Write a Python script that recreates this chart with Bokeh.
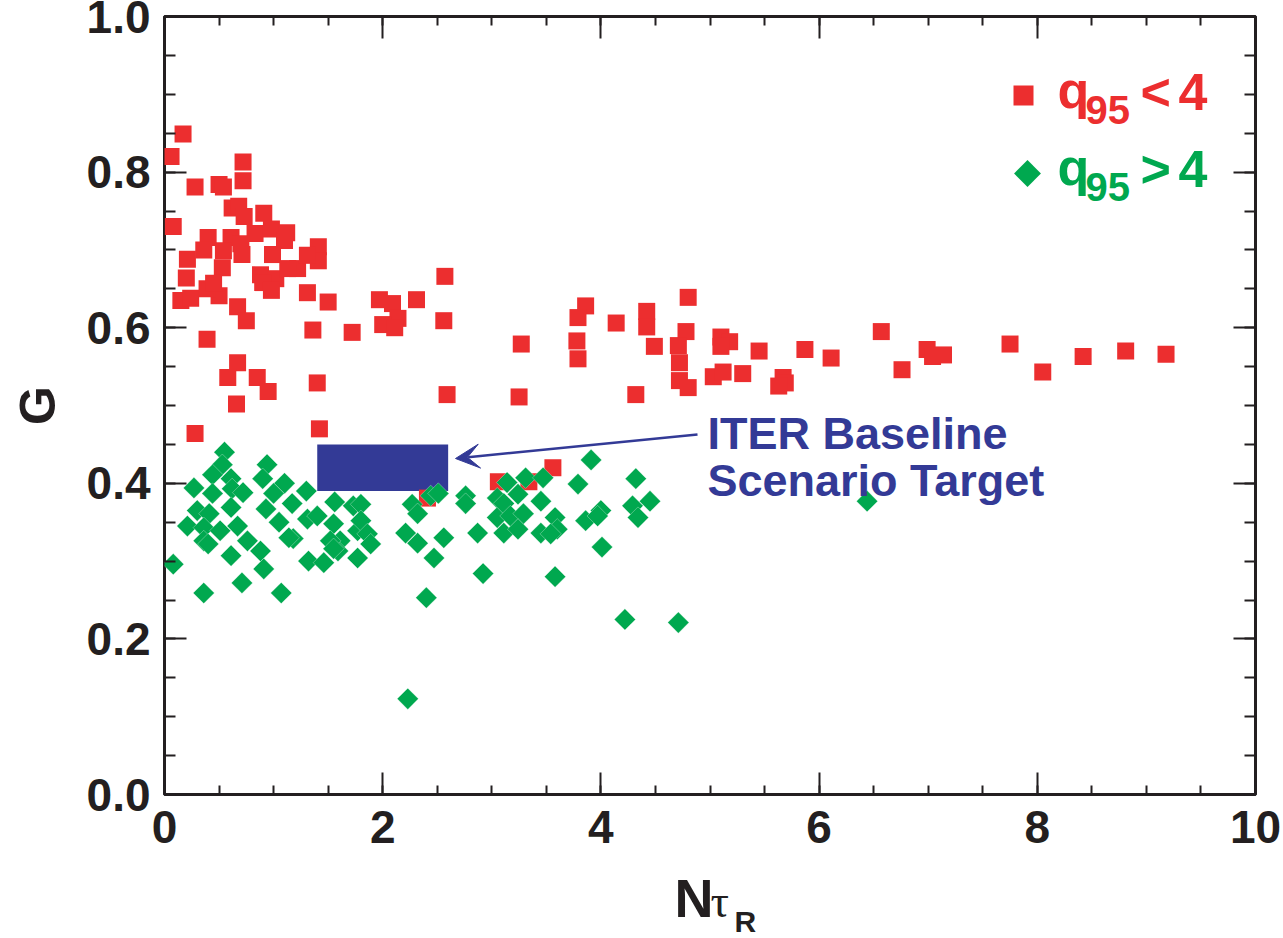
import numpy as np
from bokeh.plotting import figure
from bokeh.layouts import column
from bokeh.models import (Range1d, FixedTicker, Label, Arrow, VeeHead, LinearAxis,
                          ColumnDataSource)
from bokeh.embed import file_html
from bokeh.resources import INLINE

# --- data: G versus N_tauR -------------------------------------------------
# discharges with q95 < 4
red_n = [0.06, 0.17, 0.08, 0.28, 0.50, 0.54, 0.72, 0.72, 0.62, 0.68, 0.73, 0.91, 0.83, 0.98,
         1.12, 0.40, 0.61, 0.70, 0.36, 0.54, 0.71, 0.99, 1.10, 1.41, 1.41, 0.21, 0.53, 0.88,
         1.02, 1.22, 1.13, 1.31, 1.31, 0.20, 0.15, 0.67, 0.75, 0.39, 0.67, 0.58, 0.85, 0.95,
         0.66, 0.28, 1.50, 1.36, 1.72, 1.40, 1.42, 1.97, 2.09, 2.14, 2.00, 2.11, 2.31, 2.57,
         2.56, 2.59, 0.24, 0.50, 0.39, 0.45, 0.90, 0.98,
         3.27, 3.25, 3.86, 3.79, 3.78, 3.79, 4.14, 4.42, 4.42, 4.49, 4.32, 4.80, 4.78, 4.71,
         4.72, 4.72, 4.80, 5.10, 5.18, 5.10, 5.03, 5.12, 5.30, 5.45, 5.67, 5.69, 5.63, 5.87,
         6.11, 6.57, 6.76, 6.99, 7.04, 7.14, 7.75, 8.05, 8.42, 8.81, 9.18, 3.06, 3.34, 3.56,
         2.41]
red_g = [0.820, 0.849, 0.730, 0.781, 0.784, 0.781, 0.789, 0.813, 0.754, 0.756, 0.743, 0.747,
         0.721, 0.727, 0.722, 0.716, 0.716, 0.708, 0.700, 0.699, 0.694, 0.694, 0.712, 0.704,
         0.686, 0.688, 0.677, 0.668, 0.663, 0.676, 0.676, 0.693, 0.645, 0.664, 0.635, 0.627,
         0.609, 0.585, 0.555, 0.536, 0.536, 0.518, 0.502, 0.464, 0.633, 0.597, 0.594, 0.529,
         0.470, 0.636, 0.631, 0.612, 0.604, 0.600, 0.636, 0.666, 0.609, 0.514, 0.638, 0.641,
         0.650, 0.657, 0.658, 0.648,
         0.579, 0.511, 0.628, 0.613, 0.583, 0.560, 0.606, 0.621, 0.601, 0.576, 0.514, 0.639,
         0.595, 0.577, 0.555, 0.532, 0.523, 0.588, 0.582, 0.576, 0.537, 0.543, 0.541, 0.570,
         0.536, 0.529, 0.525, 0.572, 0.561, 0.595, 0.546, 0.572, 0.563, 0.565, 0.579, 0.543,
         0.563, 0.570, 0.566, 0.402, 0.402, 0.420, 0.381]

# discharges with q95 > 4
green_n = [0.55, 0.53, 0.44, 0.61, 0.27, 0.62, 0.44, 0.72, 0.94, 0.90, 1.10, 1.00, 1.17, 1.30,
           0.93, 0.61, 0.30, 0.41, 0.21, 0.36, 0.67, 0.51, 0.36, 0.76, 1.05, 1.18, 1.31, 1.40,
           1.56, 1.55, 1.61, 1.73, 1.77, 0.40, 0.61, 0.88, 1.32, 1.46, 1.59, 1.77, 0.08, 0.71,
           0.91, 0.36, 1.07,
           1.14, 1.52, 1.80, 1.80, 1.86, 1.89, 1.55, 2.27, 2.32, 2.21, 2.32, 2.44, 2.51, 2.56,
           2.47, 2.76, 2.76, 2.87, 2.92, 2.40, 3.05, 3.05, 2.23,
           3.91, 3.14, 3.31, 3.47, 3.24, 3.11, 3.17, 3.29, 3.45, 3.11, 3.24, 3.45, 3.58, 3.60,
           3.54, 3.79, 4.32, 3.86, 4.00, 3.97, 4.29, 4.34, 4.45, 4.01, 3.58, 4.22, 4.71, 6.44]
green_g = [0.440, 0.424, 0.411, 0.406, 0.394, 0.393, 0.387, 0.388, 0.424, 0.406, 0.400, 0.387,
           0.374, 0.390, 0.367, 0.369, 0.365, 0.361, 0.345, 0.343, 0.345, 0.339, 0.326, 0.326,
           0.350, 0.329, 0.354, 0.358, 0.376, 0.348, 0.326, 0.371, 0.339, 0.322, 0.307, 0.313,
           0.300, 0.298, 0.313, 0.304, 0.296, 0.272, 0.290, 0.259, 0.259,
           0.330, 0.326, 0.373, 0.352, 0.335, 0.322, 0.316, 0.373, 0.361, 0.336, 0.323, 0.384,
           0.387, 0.330, 0.304, 0.384, 0.374, 0.336, 0.284, 0.253, 0.381, 0.356, 0.123,
           0.430, 0.401, 0.407, 0.407, 0.386, 0.374, 0.358, 0.361, 0.377, 0.336, 0.341, 0.336,
           0.356, 0.341, 0.335, 0.399, 0.406, 0.352, 0.365, 0.358, 0.371, 0.356, 0.377, 0.318,
           0.280, 0.225, 0.221, 0.377]

# ITER baseline scenario target window
target_n = [1.4, 2.6]
target_g = [0.39, 0.45]

x_ticks = [0, 2, 4, 6, 8, 10]
x_tick_labels = ["0", "2", "4", "6", "8", "10"]
y_ticks = [0.0, 0.2, 0.4, 0.6, 0.8, 1.0]
y_tick_labels = ["0.0", "0.2", "0.4", "0.6", "0.8", "1.0"]

# --- styling -----------------------------------------------------------------
RED = "#EC2E2F"
GREEN = "#00A84F"
BLUE = "#333A96"
DARK = "#231F20"
FONT = "Liberation Sans"

X_RANGE = (0, 10)
Y_RANGE = (0, 1)
FRAME_LEFT, FRAME_TOP, FRAME_W, FRAME_H = 164, 16, 1091, 778
WIDTH, HEIGHT = 1283, 938
TITLE_H = 72                      # strip under the chart holding the x-axis title
MAIN_H = HEIGHT - TITLE_H
MID = 0.3465                      # baseline -> vertical centre of a text line, in em


def at(px, py):
    """Canvas pixel position -> data coordinates of the main plot."""
    x = X_RANGE[0] + (px - FRAME_LEFT) / FRAME_W * (X_RANGE[1] - X_RANGE[0])
    y = Y_RANGE[1] - (py - FRAME_TOP) / FRAME_H * (Y_RANGE[1] - Y_RANGE[0])
    return x, y


p = figure(frame_width=FRAME_W, frame_height=FRAME_H,
           x_range=Range1d(*X_RANGE), y_range=Range1d(*Y_RANGE),
           output_backend="svg", toolbar_location=None,
           min_border_left=FRAME_LEFT, min_border_top=FRAME_TOP,
           min_border_right=WIDTH - FRAME_LEFT - FRAME_W,
           min_border_bottom=MAIN_H - FRAME_TOP - FRAME_H,
           background_fill_color="white", border_fill_color="white")
p.grid.visible = False
p.outline_line_color = DARK
p.outline_line_width = 3

x_ticker = FixedTicker(ticks=x_ticks, minor_ticks=list(np.arange(0, 10.01, 0.5)))
y_ticker = FixedTicker(ticks=y_ticks, minor_ticks=list(np.round(np.arange(0, 1.001, 0.05), 3)))


def style_axis(ax, major_in, minor_in):
    ax.axis_line_color = None
    ax.major_tick_in = major_in
    ax.major_tick_out = 0
    ax.minor_tick_in = minor_in
    ax.minor_tick_out = 0
    ax.major_tick_line_color = DARK
    ax.major_tick_line_width = 2
    ax.minor_tick_line_color = DARK
    ax.minor_tick_line_width = 2
    ax.major_label_text_font = FONT
    ax.major_label_text_font_style = "bold"
    ax.major_label_text_color = DARK
    ax.major_label_text_font_size = "46px"


xa = p.xaxis[0]
xa.ticker = x_ticker
xa.major_label_overrides = {t: s for t, s in zip(x_ticks, x_tick_labels)}
style_axis(xa, 22, 9)
xa.major_label_standoff = 16

ya = p.yaxis[0]
ya.ticker = y_ticker
ya.major_label_overrides = {t: s for t, s in zip(y_ticks, y_tick_labels)}
style_axis(ya, 22, 11)
ya.major_label_standoff = 14
ya.axis_label = "G"
ya.axis_label_text_font = FONT
ya.axis_label_text_font_style = "bold"
ya.axis_label_text_font_size = "50px"
ya.axis_label_text_color = DARK
ya.axis_label_standoff = 18

# mirrored ticks on the top and right edges of the frame
top = LinearAxis(ticker=x_ticker)
style_axis(top, 22, 9)
right = LinearAxis(ticker=y_ticker)
style_axis(right, 22, 11)
for ax in (top, right):
    ax.major_label_text_color = None
    ax.major_label_text_font_size = "1px"
    ax.major_label_standoff = 0
p.add_layout(top, "above")
p.add_layout(right, "right")

# target window
p.quad(left=[target_n[0]], right=[target_n[1]], bottom=[target_g[0]], top=[target_g[1]],
       fill_color=BLUE, line_color=None)

# data points
p.scatter(red_n, red_g, marker="square", size=17, fill_color=RED, line_color=None)
p.scatter(green_n, green_g, marker="square", angle=np.pi / 4, size=15,
          fill_color=GREEN, line_color="white", line_width=0.5, line_alpha=0.6)

# legend keys and labels
kx, ky = at(1023, 95)
gx, gy = at(1027, 173)
keys = ColumnDataSource(dict(x=[kx, gx], y=[ky, gy], angle=[0, np.pi / 4],
                             size=[20, 19], color=[RED, GREEN]))
p.scatter("x", "y", source=keys, marker="square", angle="angle", size="size",
          fill_color="color", line_color=None)


def text_on(fig, x, y, text, size, color, font=FONT, style="bold"):
    fig.add_layout(Label(x=x, y=y, text=text, text_font=font, text_font_style=style,
                         text_font_size=f"{size}px", text_color=color,
                         text_align="left", text_baseline="middle"))


def text_at(px, base, text, size, color, **kw):
    """Text whose baseline sits at canvas row `base`."""
    x, y = at(px, base - MID * size)
    text_on(p, x, y, text, size, color, **kw)


for base, colour, rel in ((110, RED, "<"), (187, GREEN, ">")):
    text_at(1057, base - 2, "q", 52, colour)
    text_at(1085, base + 13, "95", 40, colour)
    text_at(1140, base, rel, 52, colour)
    text_at(1178, base, "4", 52, colour)

# annotation for the target window
text_at(707, 449, "ITER Baseline", 45, BLUE)
text_at(707, 496, "Scenario Target", 45, BLUE)
ax0, ay0 = at(697, 434)
ax1, ay1 = at(455, 458)
p.add_layout(Arrow(end=VeeHead(size=24, fill_color=BLUE, line_color=BLUE),
                   x_start=ax0, y_start=ay0, x_end=ax1, y_end=ay1,
                   line_color=BLUE, line_width=2.5))

# --- x-axis title N_{tau_R} in a strip below, sharing the x scale -------------
t = figure(frame_width=FRAME_W, frame_height=TITLE_H,
           x_range=p.x_range, y_range=Range1d(TITLE_H, 0),
           x_axis_location=None, y_axis_location=None,
           output_backend="svg", toolbar_location=None,
           min_border_left=FRAME_LEFT, min_border_right=WIDTH - FRAME_LEFT - FRAME_W,
           min_border_top=0, min_border_bottom=0,
           background_fill_color="white", border_fill_color="white")
t.grid.visible = False
t.outline_line_color = None


def title_at(px, base, text, size, **kw):
    x, _ = at(px, 0)
    text_on(t, x, base - MID * size - MAIN_H, text, size, DARK, **kw)


title_at(674, 916, "N", 54)
title_at(710, 917, "\u03c4", 46, font="Liberation Serif", style="normal")
title_at(734, 931, "R", 30)

open("out.html", "w").write(file_html(column(p, t, spacing=0), INLINE))
